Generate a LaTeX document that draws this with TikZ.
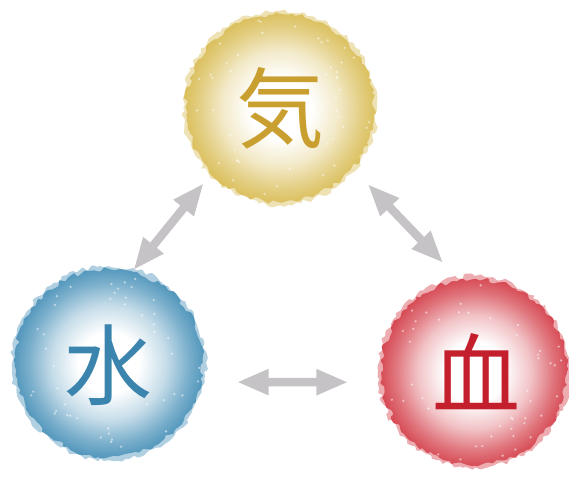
\documentclass[tikz,border=0pt]{standalone}
\usepackage{fontspec}
\newfontfamily\kanjifont{Noto Sans CJK JP}
\usetikzlibrary{arrows.meta, decorations.pathmorphing}
\definecolor{qigold}{HTML}{D4B440}
\definecolor{mizublue}{HTML}{3384B0}
\definecolor{chired}{HTML}{CF2A36}
\definecolor{qitext}{HTML}{C9A030}
\definecolor{mizutext}{HTML}{3A84AE}
\definecolor{chitext}{HTML}{C41F2D}
\definecolor{linkgray}{HTML}{C6C3C6}
\pgfdeclareradialshading{qiwash}{\pgfpoint{0bp}{0bp}}{color(0bp)=(white); color(8bp)=(white); color(15bp)=(qigold!28); color(21bp)=(qigold!65); color(25bp)=(qigold!85); color(50bp)=(qigold!85)}
\pgfdeclareradialshading{mizuwash}{\pgfpoint{0bp}{0bp}}{color(0bp)=(white); color(8bp)=(white); color(15bp)=(mizublue!28); color(21bp)=(mizublue!65); color(25bp)=(mizublue!85); color(50bp)=(mizublue!85)}
\pgfdeclareradialshading{chiwash}{\pgfpoint{0bp}{0bp}}{color(0bp)=(white); color(8bp)=(white); color(15bp)=(chired!28); color(21bp)=(chired!65); color(25bp)=(chired!85); color(50bp)=(chired!85)}

\begin{document}
\begin{tikzpicture}[
    x=1pt, y=1pt,
    rim/.style={decorate, decoration={random steps, segment length=4pt, amplitude=2.6pt}, rounded corners=1pt},
    kanji/.style={circle, minimum size=196pt, inner sep=0pt, text=#1, font=\kanjifont\fontsize{88}{88}\selectfont},
    link/.style={{Triangle[width=24pt,length=32pt]}-{Triangle[width=24pt,length=32pt]}, line width=8.5pt, draw=linkgray}
]
\useasboundingbox (0,0) rectangle (569,481);
\pgfmathsetseed{11}

% washes
\fill[rim, qigold!60, opacity=.65] (280,373) circle (97pt);
\shade[rim, shading=qiwash] (280,373) circle (94pt);
\fill[rim, mizublue!60, opacity=.65] (109,118) circle (97pt);
\shade[rim, shading=mizuwash] (109,118) circle (94pt);
\fill[rim, chired!60, opacity=.65] (474,109) circle (96pt);
\shade[rim, shading=chiwash] (474,109) circle (93pt);

% speckles
\foreach \cx/\cy in {280/373, 109/118, 474/109}{
  \foreach \k in {1,...,45}{
    \pgfmathsetmacro\ang{360*rnd}
    \pgfmathsetmacro\rad{55+36*rnd}
    \fill[white, opacity=.5] (\cx,\cy) ++(\ang:\rad) circle (1.3pt);
  }
}

\node[kanji=qitext] (qi) at (280,373) {気};
\node[kanji=mizutext] (mizu) at (108,116) {水};
\node[kanji=chitext] (chi) at (476,109) {血};

\draw[link, shorten >=9pt] (mizu.75) -- (qi.224);
\draw[link, shorten <=18pt, shorten >=18pt] (qi.320) -- (chi.102);
\draw[link, shorten <=32pt, shorten >=30pt] (mizu.350) -- (chi.186);
\end{tikzpicture}
\end{document}
